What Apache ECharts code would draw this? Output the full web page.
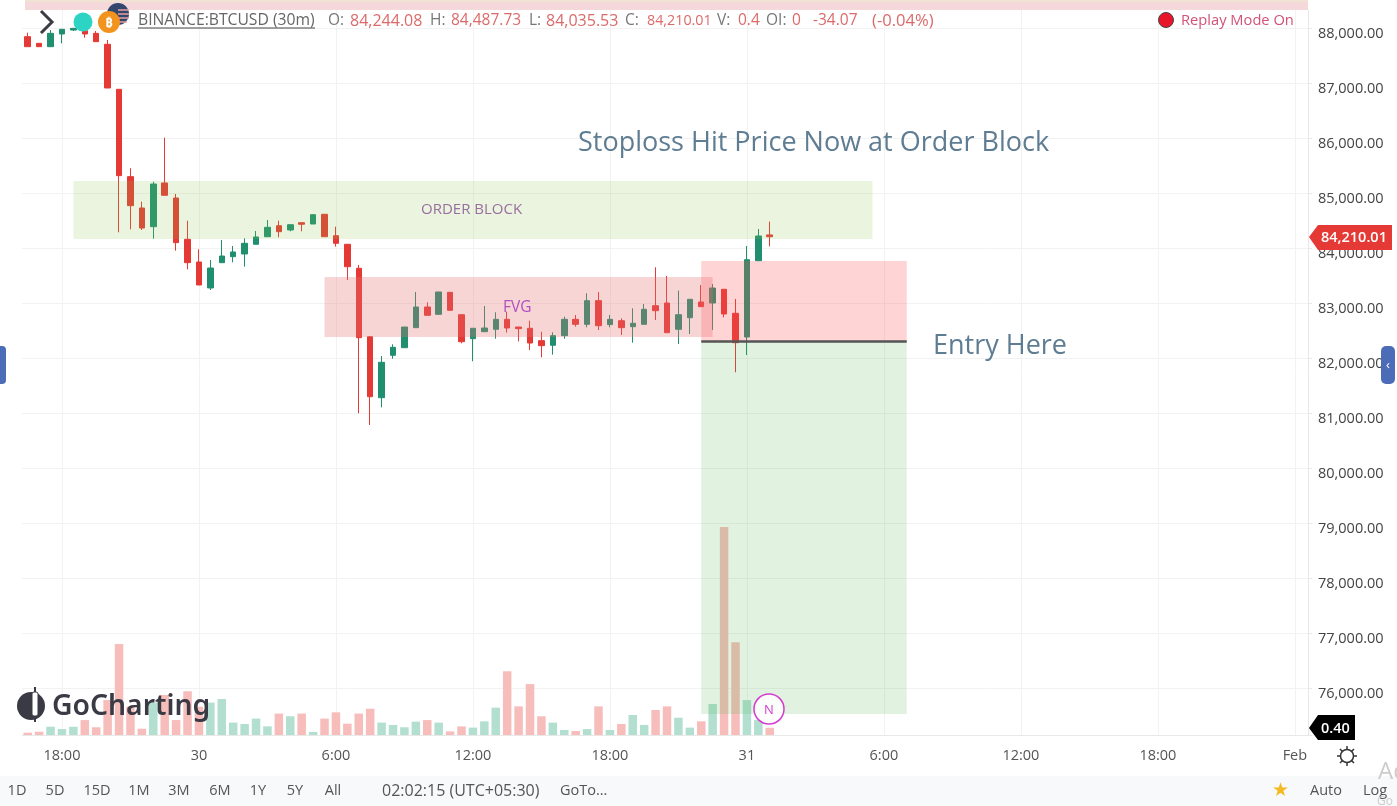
<!DOCTYPE html>
<html><head><meta charset="utf-8">
<style>html,body{margin:0;padding:0;background:#fff}#c{width:1397px;height:806px}</style>
<script src="https://cdn.jsdelivr.net/npm/echarts@6/dist/echarts.min.js"></script>
</head><body><div id="c"></div>
<script>
// [open, close, low, high] for each 30-minute bar
const candleValues = [
[87848,87666,87666,87920],[87727,87666,87666,87727],[87666,87909,87666,87969],[87897,87982,87727,87982],
[87969,88000,87951,88000],[87957,87897,87829,87973],[87909,87757,87757,87951],[87709,86915,86915,87788],
[86891,85321,84291,86891],[85303,84775,84346,85455],[84733,84369,84333,84848],[84393,85169,84175,85211],
[85188,84964,84964,86011],[84915,84103,83957,84988],[84164,83739,83619,84502],[83751,83333,83333,83982],
[83279,83642,83242,83788],[83739,83860,83739,84151],[83848,83933,83746,84042],[83897,84091,83666,84182],
[84073,84206,84073,84315],[84211,84382,84211,84515],[84411,84302,84200,84502],[84333,84429,84309,84429],
[84466,84437,84309,84466],[84442,84611,84442,84611],[84619,84211,84211,84619],[84229,84091,84031,84393],
[84073,83666,83424,84073],[83637,82375,81000,83697],[82393,81302,80788,82393],[81284,81927,81109,82042],
[82055,82200,81993,82255],[82193,82569,82193,82569],[82557,82933,82557,83206],[82933,82782,82782,83019],
[82800,83206,82800,83206],[83200,82873,82873,83200],[82793,82302,82273,82793],[82357,82546,81946,82546],
[82484,82551,82484,82951],[82528,82709,82357,82837],[82709,82551,82466,82848],[82569,82539,82309,82569],
[82546,82278,82151,82684],[82321,82230,82018,82484],[82237,82412,82066,82473],[82412,82709,82357,82757],
[82709,82618,82575,82788],[82618,83048,82564,83183],[83048,82593,82515,83206],[82613,82709,82564,82788],
[82684,82557,82424,82728],[82575,82637,82284,82909],[82618,82891,82618,82988],[82957,82866,82697,83655],
[83006,82466,82466,83497],[82528,82793,82260,83230],[82738,83073,82442,83073],[83024,82939,82939,83333],
[83006,83278,82515,83351],[83255,82806,82746,83255],[82818,82284,81746,83079],[82388,83793,82060,84042],
[83775,84224,83775,84351],[84244,84210,84036,84488]
];
const volumeValues = [
.13,.18,.46,.33,.46,.83,.43,1.94,5.05,1.57,.35,1.8,2.22,.83,2.43,1.57,1.8,2.0,.69,.61,.91,.48,1.19,1.04,1.19,.17,.91,1.26,.63,1.19,1.46,.69,.56,.43,.74,
.83,.69,.2,.48,.41,.76,1.52,3.54,1.59,2.83,1.04,.69,.28,.22,.33,1.59,.28,.61,1.11,.56,1.39,1.59,.96,.41,.76,1.72,11.56,5.15,1.94,.83,.40
];
const priceTicks = [76000,77000,78000,79000,80000,81000,82000,83000,84000,85000,86000,87000,88000];
const timeTickLabels = {3:'18:00',15:'30',27:'6:00',39:'12:00',51:'18:00',63:'31',75:'6:00',87:'12:00',99:'18:00',111:'Feb'};
const categories = Array.from({length:113},(_,i)=>'b'+i);
const orderBlock = {from:4,to:74,top:85224,bottom:84170};
const fvg = {from:26,to:60,top:83478,bottom:82387};
const position = {from:59,to:77,top:83768,entry:82314,bottom:75534};
const rangeButtons = [['1D',17],['5D',55],['15D',97],['1M',139],['3M',179],['6M',220],['1Y',258],['5Y',295],['All',333]];

const UP='#1F8F70',DOWN='#E53935';
const FONT='"Open Sans","Noto Sans",sans-serif';
const txt=(x,y,text,size,fill,extra={})=>({type:'text',x,y,silent:true,z:50,style:Object.assign({text,fontSize:size,fill,fontFamily:FONT,verticalAlign:'middle'},extra)});
const area=(b,t,f,to,c)=>[{xAxis:f,yAxis:t,itemStyle:{color:c}},{xAxis:to,yAxis:b}];
const seg=(x1,y1,x2,y2,c,w)=>({type:'line',silent:true,z:50,shape:{x1,y1,x2,y2},style:{stroke:c,lineWidth:w}});
const HV='#DC6A6A',HL='#777';

const graphics=[
 {type:'rect',shape:{x:25,y:0,width:1283,height:10},style:{fill:'#F5D9DA'},z:40},
 {type:'rect',shape:{x:25,y:0,width:1283,height:2},style:{fill:'#F1E3D3'},z:41},
 {type:'rect',shape:{x:0,y:776,width:1397,height:30},style:{fill:'#F7F9FB'},z:40},
 // header
 {type:'polyline',shape:{points:[[41,11],[52,22],[41,33]]},style:{stroke:'#3c3c44',lineWidth:3,fill:'none'},z:50},
 {type:'circle',shape:{cx:83,cy:22,r:9.5},style:{fill:'#2DD4C4'},z:50},
 {type:'circle',shape:{cx:118,cy:14,r:11},style:{fill:'#33466E'},z:49},
 seg(118,10,129,10,'#E8A0A0',1.5),seg(118,14,129,14,'#E8A0A0',1.5),seg(118,18,129,18,'#E8A0A0',1.5),seg(118,22,127,22,'#E8A0A0',1.5),
 {type:'circle',shape:{cx:109,cy:22,r:11},style:{fill:'#F2931E'},z:50},
 txt(109,23,'₿',13,'#fff',{align:'center',fontWeight:'bold'}),
 txt(138,21,'BINANCE:BTCUSD (30m)',15.7,'#666'),
 seg(138,28,315,28,'#444',1),
 txt(328,21,'O:',15.5,HL),txt(350,21,'84,244.08',16,HV),
 txt(430,21,'H:',15.5,HL),txt(451,21,'84,487.73',15.5,HV),
 txt(529,21,'L:',15.5,HL),txt(546,21,'84,035.53',16,HV),
 txt(625,21,'C:',15.5,HL),txt(647,21,'84,210.01',14.3,HV),
 txt(717,21,'V:',15.5,HL),txt(738,21,'0.4',15.5,HV),
 txt(766,21,'OI:',15.5,HL),txt(792,21,'0',15.5,HV),
 txt(813,21,'-34.07',15.5,HV),txt(872,21,'(-0.04%)',16.6,HV),
 {type:'circle',shape:{cx:1166,cy:20,r:7.5},style:{fill:'#E8152B',stroke:'#444',lineWidth:1},z:50},
 txt(1181,21,'Replay Mode On',14.7,'#D2527A'),
 // annotations
 txt(421,210,'ORDER BLOCK',15,'#9A6FA0'),
 txt(503,308,'FVG',15.5,'#B14FC0'),
 txt(578,143,'Stoploss Hit Price Now at Order Block',27,'#5F7D92'),
 txt(933,346,'Entry Here',27,'#5F7D92'),
 // logo
 {type:'circle',shape:{cx:31,cy:706,r:14},style:{fill:'#3A3A45'},z:50},
 seg(35,687,35,722,'#3A3A45',2),
 {type:'rect',shape:{x:32,y:692,width:6,height:24,r:2},style:{fill:'#fff',stroke:'#3A3A45',lineWidth:1},z:51},
 txt(52,707,'GoCharting',28.3,'#3A3A45',{fontWeight:600,fontFamily:'"Noto Sans",sans-serif'}),
 // N badge
 {type:'circle',shape:{cx:769,cy:709,r:15},style:{fill:'rgba(255,255,255,.85)',stroke:'#D63BD0',lineWidth:1.5},z:50},
 txt(769,710,'N',13,'#D63BD0',{align:'center'}),
 // price tags
 {type:'polygon',shape:{points:[[1309,237],[1318,225],[1392,225],[1392,250],[1318,250]]},style:{fill:'#E53935'},z:50},
 txt(1321,238,'84,210.01',14.5,'#fff',{fontWeight:600}),
 {type:'polygon',shape:{points:[[1309,728],[1318,715],[1355,715],[1355,740],[1318,740]]},style:{fill:'#000'},z:50},
 txt(1321,729,'0.40',14.5,'#fff',{fontWeight:600}),
 // side handles
 {type:'rect',shape:{x:-6,y:346,width:12,height:38,r:4},style:{fill:'#4C6CB8'},z:50},
 {type:'rect',shape:{x:1381,y:346,width:14,height:38,r:5},style:{fill:'#4C6CB8'},z:50},
 txt(1388,365,'‹',13,'#fff',{align:'center'}),
 // sun
 seg(1347,746,1347,766,'#333',1.5),seg(1337,756,1357,756,'#333',1.5),seg(1340,749,1354,763,'#333',1.5),seg(1354,749,1340,763,'#333',1.5),
 {type:'circle',shape:{cx:1347,cy:756,r:6.5},style:{fill:'#fff',stroke:'#333',lineWidth:1.5},z:51},
 // footer
 ...rangeButtons.map(([t,x])=>txt(x,791,t,14.5,'#555',{align:'center'})),
 txt(382,791,'02:02:15 (UTC+05:30)',16,'#555'),
 txt(560,791,'GoTo...',14.5,'#555'),
 txt(1280,791,'★',19,'#F5B921',{align:'center'}),
 txt(1310,791,'Auto',14.5,'#555'),
 txt(1363,791,'Log',14.5,'#555'),
 txt(1378,772,'Ac',24,'#ccc'),
 txt(1377,802,'Go',12,'#ccc'),
];

const option={
 animation:false,
 textStyle:{fontFamily:FONT},
 grid:[
  {left:22,top:10,width:1290,height:725},
  {left:22,top:519,width:1290,height:216}
 ],
 xAxis:[
  {type:'category',gridIndex:0,data:categories,boundaryGap:true,
   axisLine:{lineStyle:{color:'#E8E8E8'}},axisTick:{show:false},
   axisLabel:{show:true,interval:i=>i in timeTickLabels,formatter:(v,i)=>timeTickLabels[i]||'',margin:13,fontSize:14.5,color:'#555',fontFamily:FONT,showMinLabel:true,showMaxLabel:true},
   splitLine:{show:true,alignWithLabel:true,interval:i=>i in timeTickLabels,lineStyle:{color:'#F2F2F2'}}},
  {type:'category',gridIndex:1,data:categories,boundaryGap:true,axisLine:{show:false},axisTick:{show:false},axisLabel:{show:false},splitLine:{show:false}}
 ],
 yAxis:[
  {type:'value',gridIndex:0,position:'right',min:75151,max:88333,offset:-4,
   axisLine:{show:true,lineStyle:{color:'#E8E8E8'}},
   axisTick:{show:true,length:4,lineStyle:{color:'#E8E8E8'},customValues:priceTicks},
   axisLabel:{customValues:priceTicks,margin:10,fontSize:14.5,color:'#444',fontFamily:FONT,verticalAlign:'top',lineHeight:12,formatter:v=>v.toLocaleString('en-US',{minimumFractionDigits:2})},
   splitLine:{show:true,lineStyle:{color:'#F2F2F2'}}},
  {type:'value',gridIndex:1,min:0,max:12,show:false}
 ],
 series:[
  {type:'bar',name:'Volume',xAxisIndex:1,yAxisIndex:1,barWidth:8.5,z:1,silent:true,
   data:volumeValues.map((v,i)=>({value:v,itemStyle:{color:candleValues[i][1]>=candleValues[i][0]?'#B2DFD0':'#F6BDBB'}}))},
  {type:'candlestick',name:'BTCUSD',xAxisIndex:0,yAxisIndex:0,barWidth:6,z:3,silent:true,data:candleValues,
   itemStyle:{color:UP,color0:DOWN,borderColor:UP,borderColor0:DOWN,borderWidth:1},
   markArea:{silent:true,z:5,label:{show:false},data:[
     area(orderBlock.bottom,orderBlock.top,orderBlock.from,orderBlock.to,'rgba(139,195,74,.18)'),
     area(fvg.bottom,fvg.top,fvg.from,fvg.to,'rgba(229,115,115,.3)'),
     area(position.entry,position.top,position.from,position.to,'rgba(255,82,82,.25)'),
     area(position.bottom,position.entry,position.from,position.to,'rgba(76,175,80,.17)')
   ]},
   markLine:{silent:true,z:6,symbol:'none',label:{show:false},lineStyle:{color:'#555',width:2.5,type:'solid'},
     data:[[{coord:[position.from,position.entry]},{coord:[position.to,position.entry]}]]}
  }
 ],
 graphic:{elements:graphics}
};
const chart=echarts.init(document.getElementById('c'),null,{renderer:'canvas'});
chart.setOption(option);
</script></body></html>
